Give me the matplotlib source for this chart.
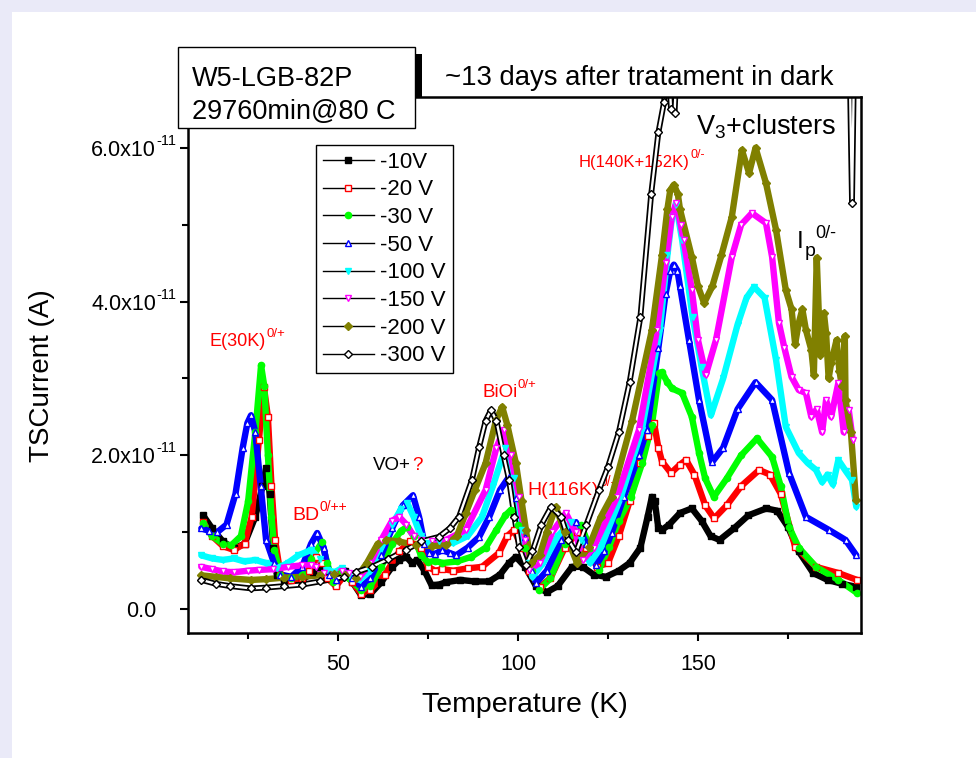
import matplotlib
matplotlib.use('Agg')
import matplotlib.pyplot as plt
from matplotlib.lines import Line2D
from matplotlib.patches import Rectangle
from matplotlib.ticker import FixedLocator

plt.rcParams['font.family'] = ['Liberation Sans', 'DejaVu Sans']
plt.rcParams['mathtext.fontset'] = 'custom'
plt.rcParams['mathtext.rm'] = 'Liberation Sans'
plt.rcParams['mathtext.it'] = 'Liberation Sans:italic'
plt.rcParams['mathtext.bf'] = 'Liberation Sans:bold'

SCALE = 1e-11  # values below are in units of 1e-11 A

labels = ['-10V', '-20 V', '-30 V', '-50 V', '-100 V', '-150 V', '-200 V', '-300 V']

s_10 = [(12.5,1.22),(15,1.05),(18,0.88),(21,0.79),(24,0.85),(27,1.2),(29,1.6),(30,1.83),(31,1.5),(32,0.8),
        (33,0.45),(35,0.38),(40,0.38),(43,0.48),(44.7,0.55),(46.5,0.45),(49.4,0.31),(52,0.5),(54,0.35),(56.4,0.18),
        (59,0.2),(62,0.35),(65,0.55),(67,0.64),(69,0.68),(70.5,0.6),(72,0.64),(74,0.5),(76,0.31),(78,0.32),
        (80,0.35),(84,0.38),(88,0.36),(92,0.36),(95,0.45),(97.5,0.6),(99.4,0.68),(102,0.55),(105,0.3),(108,0.22),
        (111,0.3),(115,0.55),(118,0.55),(121,0.45),(124.4,0.42),(128,0.5),(131,0.6),(134,0.8),(136,1.2),(137.2,1.46),
        (138,1.4),(139,1.05),(140,1.03),(142,1.1),(145,1.25),(148.3,1.31),(151,1.15),(153.5,0.95),(156,0.9),(160,1.05),
        (164,1.22),(169,1.31),(172,1.28),(175,1.07),(178,0.75),(182,0.47),(186,0.38),(190,0.33),(194,0.29)]

s_20 = [(12.5,1.13),(15,0.95),(18,0.82),(21,0.77),(24,0.85),(26,1.2),(28,2.2),(29.4,2.89),(30.5,2.5),(31.5,1.6),
        (32.5,0.9),(34,0.45),(37,0.38),(40,0.4),(42,0.5),(44,0.68),(45.5,0.6),(47,0.4),(49.4,0.3),(52,0.45),
        (54,0.35),(56.4,0.2),(59,0.25),(63,0.45),(67,0.75),(70,0.88),(71.6,0.92),(73,0.8),(75,0.55),(77,0.5),
        (79,0.52),(82,0.5),(86,0.53),(90,0.55),(94.7,0.73),(97,0.95),(98.9,1.03),(101,0.8),(103,0.5),(106,0.29),
        (109,0.4),(113,0.8),(116.5,1.0),(119,0.8),(122,0.55),(125,0.6),(128,0.95),(131,1.4),(134,1.9),(136,2.25),
        (137.8,2.42),(139,2.1),(140,1.92),(142.5,1.77),(145,1.88),(146.7,1.94),(149,1.75),(152,1.35),(154.5,1.18),(158,1.35),
        (162,1.6),(167,1.81),(170,1.75),(173,1.5),(177,0.81),(182.8,0.55),(189,0.47),(194.2,0.38)]

s_30 = [(12.5,1.12),(15,0.95),(18,0.85),(20.3,0.83),(23,0.95),(25,1.4),(27,2.3),(28.6,3.17),(29.5,2.9),(30.5,2.0),
        (31.5,1.2),(32.3,0.77),(34,0.45),(37,0.4),(40,0.45),(42.5,0.65),(45.5,0.87),(47,0.6),(48.5,0.35),(51,0.5),
        (53,0.4),(56.4,0.25),(59,0.3),(62,0.55),(65,0.85),(67.5,1.02),(69.2,1.07),(71,0.95),(73,0.7),(75,0.61),
        (77,0.63),(79,0.6),(83,0.62),(87,0.68),(91,0.8),(94,1.03),(96.5,1.22),(98,1.29),(100,1.1),(102,0.8),
        (104,0.5),(105.8,0.25),(109,0.4),(113,0.85),(117.5,1.09),(120,0.8),(122.5,0.51),(125.3,0.81),(128,1.15),(131.4,1.46),
        (134.5,1.9),(137.2,2.4),(139.2,3.07),(140,3.08),(141.5,2.95),(142.8,2.87),(145.6,2.81),(148.3,2.5),(150.3,2.03),(152,1.7),
        (154.4,1.46),(158,1.7),(162,2.0),(166.4,2.22),(170.6,1.98),(173,1.6),(175.3,1.07),(178,0.8),(182.8,0.55),(189,0.38),
        (194.2,0.21)]

s_50 = [(12,1.05),(14,1.02),(16.4,1.0),(19,1.1),(21.5,1.5),(23.5,2.1),(24.8,2.42),(25.8,2.52),(27,2.3),(28.5,1.6),(30,0.9),
        (32.2,0.6),(34,0.45),(37,0.42),(40,0.55),(42.5,0.85),(44.2,0.99),(46,0.8),(47.5,0.45),(49.5,0.38),(52,0.5),
        (54,0.4),(56.4,0.29),(59,0.4),(62,0.7),(65,1.05),(68,1.35),(70.8,1.48),(72.5,1.2),(74,0.85),(75.3,0.73),
        (77,0.72),(79,0.77),(81,0.73),(82.8,0.7),(86,0.8),(89.2,0.94),(92,1.2),(95,1.55),(97.5,1.72),(99.5,1.45),
        (102,0.94),(104,0.5),(105,0.34),(108,0.5),(112,0.9),(116.1,1.13),(119,0.85),(121.7,0.57),(124,0.75),(126,0.99),
        (129.4,1.46),(133.6,2.0),(135.8,2.33),(139,3.4),(141,4.1),(142.3,4.4),(143.3,4.48),(144.3,4.4),(145,4.2),(147.5,3.5),
        (150.3,2.72),(153.9,1.91),(157,2.1),(161,2.6),(166,2.95),(170.6,2.72),(175.3,1.77),(180,1.2),(186.4,1.03),(191,0.9),
        (194,0.7)]

s_100 = [(12,0.70),(15,0.66),(18,0.64),(21,0.66),(24,0.62),(27,0.64),(30,0.6),(33,0.53),(36,0.6),(39,0.7),
         (42.5,0.77),(45,0.65),(47,0.51),(49,0.48),(51,0.53),(53,0.45),(56,0.38),(59,0.5),(62,0.8),(65,1.1),
         (67.5,1.3),(69.2,1.38),(71,1.2),(73,0.95),(75,0.86),(78,0.88),(82,0.86),(86,0.95),(90,1.2),(93,1.6),
         (96.5,2.1),(99,1.7),(101,1.03),(103,0.6),(104,0.42),(107,0.6),(111,0.95),(114.7,1.13),(117.5,0.9),(120,0.6),
         (123,0.8),(128.6,1.46),(134.4,2.33),(139.4,3.63),(141.5,4.6),(142.8,5.1),(143.9,5.26),(145.6,4.8),(148.5,3.8),(151,3.15),
         (153.6,2.52),(157,3.0),(161,3.7),(163.5,4.05),(165.6,4.19),(168.5,4.05),(171.7,3.24),(174.4,2.37),(178,2.03),(180.5,1.9),
         (182.8,1.81),(184.5,1.65),(186,1.75),(187.5,1.62),(189,1.94),(191,1.8),(192.8,1.68),(194,1.33)]

s_150 = [(12,0.55),(15,0.52),(18,0.49),(21,0.48),(25,0.5),(28,0.51),(32,0.52),(36,0.55),(40,0.57),(42.5,0.57),
         (44,0.55),(46,0.47),(49,0.45),(51,0.5),(53,0.47),(56,0.42),(59,0.6),(62,0.9),(65,1.15),(67,1.2),
         (69,1.1),(71,0.95),(73,0.9),(76,0.88),(80,0.9),(85.5,1.03),(91,1.55),(94,2.1),(96,2.33),(98,2.0),
         (100.3,1.46),(102,0.9),(103,0.51),(106,0.6),(109.5,1.0),(113.3,1.25),(116,1.0),(118,0.64),(121,0.8),(127.5,1.46),
         (133.6,2.33),(138.6,3.63),(141,4.5),(142.7,5.1),(143.9,5.28),(145.2,5.0),(146,4.8),(148.3,4.15),(150,3.5),(152.2,3.05),
         (155,3.5),(159.4,4.58),(162,5.0),(165,5.15),(168.9,5.02),(170.6,4.58),(172.5,3.72),(174,3.4),(176,3.02),(178,2.85),
         (180,2.81),(181.5,2.5),(183,2.6),(184.5,2.3),(185.6,2.72),(187,2.5),(189,2.94),(190.5,2.3),(191.9,2.59),(193,2.2)]

s_200 = [(12,0.44),(16,0.42),(20,0.4),(25.8,0.38),(30,0.39),(35,0.41),(40,0.42),(45,0.44),(49,0.46),(52,0.45),
         (55,0.4),(58,0.6),(61,0.85),(63.3,0.9),(67,0.88),(71.6,0.83),(76,0.82),(80,0.83),(83,0.95),(85.5,1.25),
         (88,1.55),(91,1.9),(93.9,2.46),(95.6,2.63),(97,2.4),(99.4,1.9),(101,1.4),(102.2,1.03),(103.5,0.6),(106,0.7),
         (108,1.0),(110.5,1.33),(113,1.0),(116.4,0.6),(119.7,0.81),(123,1.2),(126,1.46),(131.7,2.45),(137.2,3.63),(140,4.6),
         (141.5,5.2),(142.3,5.45),(143.3,5.52),(144.4,5.4),(145,5.2),(148.3,4.58),(150,4.2),(151.7,3.98),(154,4.2),(156.5,4.6),
         (159.4,5.1),(162.2,5.97),(164.2,5.67),(166,6.0),(168.9,5.54),(171.7,4.93),(174.4,4.15),(176,3.9),(177,3.45),(178,3.72),
         (179,3.9),(180,3.63),(181.5,3.37),(182.2,3.05),(183,4.57),(184,3.3),(185,3.85),(185.6,3.59),(186.3,3.0),(187,3.2),
         (188.5,3.5),(189.3,3.1),(190,2.9),(190.8,3.55),(191,2.72),(192.5,2.3),(193.9,1.42)]

s_300 = [(12,0.38),(16,0.33),(20,0.3),(25.8,0.27),(30,0.28),(35,0.3),(40,0.32),(45,0.36),(51.7,0.42),(55,0.48),
         (59.4,0.55),(64,0.65),(68.9,0.77),(73,0.88),(78,0.94),(81,1.05),(83.6,1.2),(87.2,1.68),(89.2,2.11),(91,2.45),
         (92.5,2.59),(94,2.45),(96,2.0),(97.5,1.68),(99,1.2),(100.3,0.81),(102.2,0.57),(104,0.75),(106.5,1.1),(109.2,1.33),
         (112,1.2),(114,0.9),(116.1,0.74),(119,1.1),(122.5,1.55),(125,1.85),(128,2.3),(131,2.95),(134,3.8),(137,5.4),
         (139,6.2),(140.6,6.6),(141.5,7.5),(142.5,6.5),(143.5,6.45),(144.5,7.5),(192,7.5),(192.8,5.28),(193.5,7.5)]

series = [s_10, s_20, s_30, s_50, s_100, s_150, s_200, s_300]

colors = ['#000000', '#FF0000', '#00FF00', '#0000FF', '#00FFFF', '#FF00FF', '#808000', '#000000']
markers = ['s', 's', 'o', '^', 'v', 'v', 'D', 'D']
filled = [True, False, True, False, True, False, True, False]

x_major = [50, 100, 150]
x_minor = [25, 75, 125, 175]
y_major = [0, 2, 4, 6]
y_minor = [1, 3, 5]
y_ticklabels = ['0.0', '2.0x10', '4.0x10', '6.0x10']

W, H = 976, 758
fig = plt.figure(figsize=(W/100, H/100), dpi=100)
fig.patch.set_facecolor('#EAEAF8')
fig.add_artist(Rectangle((12/W, 0), 1, 1 - 12/H, transform=fig.transFigure,
                         facecolor='white', edgecolor='none', zorder=-2))

ax = fig.add_axes([188/W, 1 - 633/H, (861 - 188)/W, (633 - 97)/H])
ax.set_facecolor('white')

for s, c, m, f, lab in zip(series, colors, markers, filled, labels):
    T = [p[0] for p in s]
    I = [p[1] * SCALE for p in s]
    if lab == '-300 V':
        ax.plot(T, I, color=c, lw=4.2, solid_joinstyle='round', zorder=2)
        ax.plot(T, I, color='white', lw=1.7, zorder=2.1)
    else:
        ax.plot(T, I, color=c, lw=4.6, solid_capstyle='round', solid_joinstyle='round', zorder=2)
    ax.plot(T, I, linestyle='none', marker=m, ms=4.5,
            markerfacecolor=(c if f else 'white'), markeredgecolor=c, markeredgewidth=1.0, zorder=2.2)

ax.set_xlim(8.3, 195.3)
ax.set_ylim(-0.31 * SCALE, 6.66 * SCALE)

ax.xaxis.set_major_locator(FixedLocator(x_major))
ax.xaxis.set_minor_locator(FixedLocator(x_minor))
ax.yaxis.set_major_locator(FixedLocator([v * SCALE for v in y_major]))
ax.yaxis.set_minor_locator(FixedLocator([v * SCALE for v in y_minor]))
ax.set_xticklabels([str(v) for v in x_major])
ax.set_yticklabels(y_ticklabels)
ax.tick_params(which='major', direction='out', length=6, width=1.5, labelsize=15.5)
ax.tick_params(axis='x', which='major', pad=9)
ax.tick_params(axis='y', which='major', pad=17)
ax.tick_params(which='minor', direction='out', length=4.5, width=1.5)
for sp in ax.spines.values():
    sp.set_linewidth(1.8)

# superscript exponent for y tick labels
for lbl in ax.get_yticklabels()[1:]:
    ax.annotate('-11', xy=(1, 0.62), xycoords=lbl, xytext=(0.5, 0), textcoords='offset points',
                fontsize=10.5, va='bottom', ha='left', annotation_clip=False)

ax.set_xlabel('Temperature (K)', fontsize=20.5, labelpad=12)
ax.set_ylabel('TSCurrent (A)', fontsize=20)
ax.yaxis.set_label_coords(-0.197, 0.48)

red = '#FF0000'


def label_sup(x, y, base, sup, color, fs, sfs, z=3):
    t = ax.text(x, y, base, color=color, fontsize=fs, zorder=z)
    ax.annotate(sup, xy=(1, 0.58), xycoords=t, xytext=(0.5, 0), textcoords='offset points',
                fontsize=sfs, color=color, va='bottom', ha='left', zorder=z)
    return t


label_sup(14.2, 3.42 * SCALE, 'E(30K)', '0/+', red, 13, 9.5)
label_sup(37.2, 1.16 * SCALE, 'BD', '0/++', red, 14, 10)
vo = ax.text(59.7, 1.81 * SCALE, 'VO+', color='black', fontsize=13.5)
ax.annotate('?', xy=(1, 0.0), xycoords=vo, xytext=(1, 0), textcoords='offset points',
            fontsize=13.5, color=red, va='bottom', ha='left')
label_sup(90.0, 2.76 * SCALE, 'BiOi', '0/+', red, 13.5, 9.5)
label_sup(102.5, 1.49 * SCALE, 'H(116K)', '0/-', red, 14, 10, z=1.5)
label_sup(116.9, 5.75 * SCALE, 'H(140K+152K)', '0/-', red, 12, 9, z=1.5)
ax.text(149.4, 6.17 * SCALE, r'V$_{\mathregular{3}}$+clusters', color='black', fontsize=19.5)
ip = ax.text(177.4, 4.70 * SCALE, 'I', color='black', fontsize=17.5)
ipp = ax.annotate('p', xy=(1, 0.05), xycoords=ip, xytext=(1, 0), textcoords='offset points',
                  fontsize=14, va='center', ha='left')
ax.annotate('0/-', xy=(1, 1.0), xycoords=ipp, xytext=(0, 1), textcoords='offset points',
            fontsize=13, va='bottom', ha='left')

# legend
handles = [Line2D([], [], color='black', lw=1.0, marker=m, ms=4.5,
                  markerfacecolor=(c if f else 'white'), markeredgecolor=c, markeredgewidth=1.0)
           for c, m, f in zip(colors, markers, filled)]
leg = ax.legend(handles, labels, loc='upper left', bbox_to_anchor=(316/W, 1 - 145/H),
                bbox_transform=fig.transFigure, fontsize=16, frameon=True, fancybox=False,
                edgecolor='black', framealpha=1, borderpad=0.3, labelspacing=0.3,
                handlelength=2.3, handletextpad=0.3, borderaxespad=0)
leg.get_frame().set_linewidth(1.0)
leg.set_zorder(5)

# title box with shadow
bx0, by0, bw, bh = 178/W, 1 - 128/H, 237/W, 81/H
fig.add_artist(Rectangle((bx0 + bw, by0 - 7/H), 7/W, bh, transform=fig.transFigure,
                         facecolor='black', edgecolor='none', zorder=-1))
fig.add_artist(Rectangle((bx0, by0), bw, bh, transform=fig.transFigure,
                         facecolor='white', edgecolor='black', lw=1.0, zorder=6))
fig.text(192/W, 1 - 86/H, 'W5-LGB-82P', fontsize=19.5, zorder=7)
fig.text(192/W, 1 - 119/H, '29760min@80 C', fontsize=19.5, zorder=7)
fig.text(445/W, 1 - 85/H, '~13 days after tratament in dark', fontsize=19.8, zorder=7)

fig.savefig('out.png', dpi=100, facecolor=fig.get_facecolor())
